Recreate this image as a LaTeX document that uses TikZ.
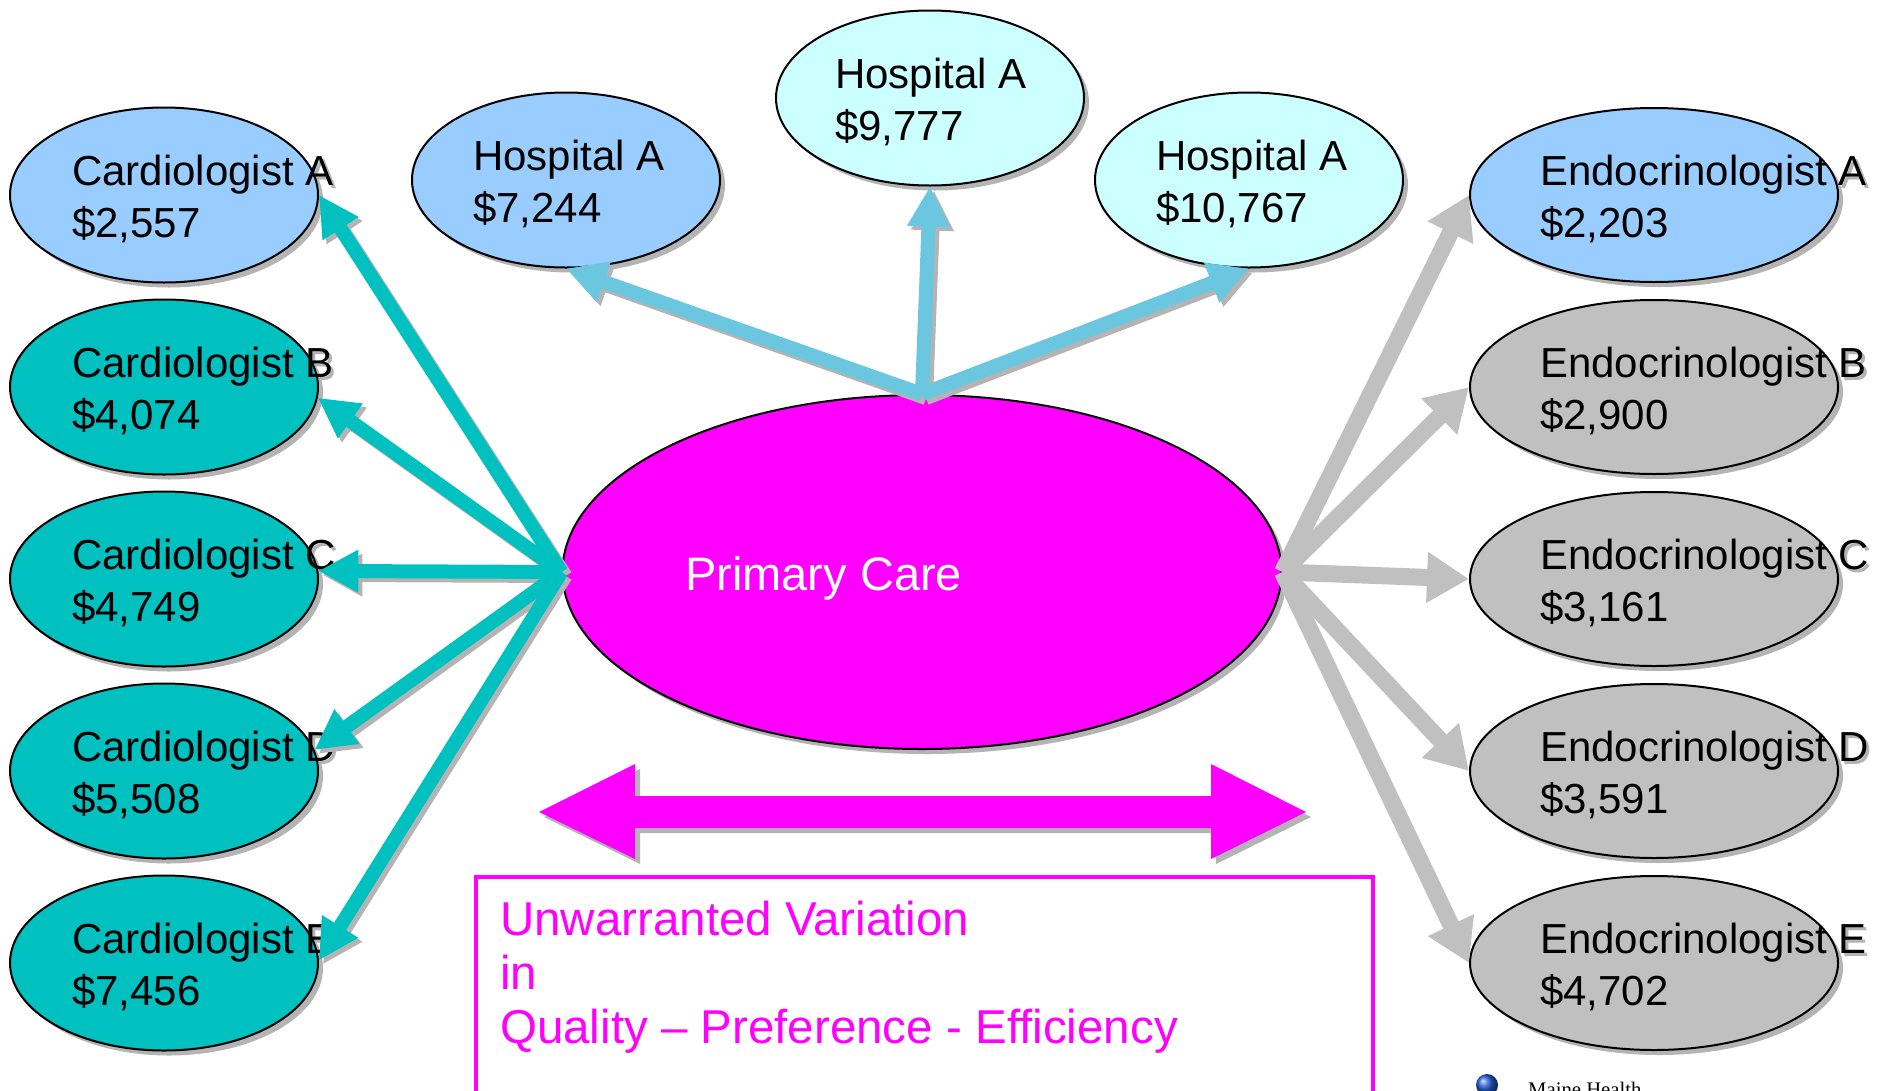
\documentclass[tikz,border=0pt]{standalone}
\usepackage{fontspec}
\setmainfont{Liberation Sans}
\newfontfamily\mhserif{Liberation Serif}
\usetikzlibrary{arrows.meta,shapes.geometric,calc,shadows}

\definecolor{lightblue}{HTML}{99CCFF}
\definecolor{palecyan}{HTML}{CCFFFF}
\definecolor{tealc}{HTML}{00C0C0}
\definecolor{silver}{HTML}{C0C0C0}
\definecolor{skyarrow}{HTML}{6BC6E0}
\definecolor{shadegray}{HTML}{B4B4B4}
\definecolor{pcmag}{HTML}{FF00FF}
\definecolor{mhblue}{HTML}{1E5AD2}

\tikzset{
  bubble/.style={ellipse, draw=black, line width=2pt, inner sep=0pt,
    minimum width=308pt, minimum height=175pt,
    drop shadow={shadow xshift=5pt, shadow yshift=-5pt, fill=shadegray, opacity=1}},
  wide/.style={minimum width=368pt, minimum height=174pt},
  lbl/.style={anchor=base west, inner sep=0pt, font=\fontsize{42}{50}\selectfont},
  lblshadow/.style={lbl, text=shadegray},
  link/.style={line width=14pt, -{Triangle[length=40pt,width=40pt]}},
  thicklink/.style={line width=17pt, -{Triangle[length=42pt,width=48pt]}},
  castshadow/.style={draw=shadegray, transform canvas={xshift=4pt,yshift=-4pt}},
  boxtxt/.style={anchor=base west, inner sep=0pt, text=pcmag, font=\fontsize{47.5}{56}\selectfont},
}

% one labelled ellipse: name, centre, style, text inset, first line, second line
\newcommand\bubble[6]{%
  \coordinate (#1-c) at #2;
  \node[lblshadow] (#1-s1) at ($(#1-c)+(#4+3,-7)$) {#5};
  \node[lblshadow] (#1-s2) at ($(#1-c)+(#4+3,45)$) {#6};
  \node[bubble,#3] (#1) at (#1-c) {};
  \node[lbl] (#1-l1) at ($(#1-c)+(#4,-10)$) {#5};
  \node[lbl] (#1-l2) at ($(#1-c)+(#4,42)$) {#6};
}

\begin{document}
\begin{tikzpicture}[x=1pt,y=-1pt]
\useasboundingbox (0,0) rectangle (1878,1090);
\clip (0,0) rectangle (1878,1090);

% centre
\node[bubble, fill=pcmag, minimum width=719pt, minimum height=354pt] (pc) at (922,572) {};
\node[anchor=base west, inner sep=0pt, text=white, font=\fontsize{47}{56}\selectfont]
  (pc-l) at ($(pc)+(-237,18)$) {Primary Care};

% cardiologists
\bubble{cA}{(164,195)}{fill=lightblue}{-92}{Cardiologist A}{\$2,557}
\bubble{cB}{(164,387)}{fill=tealc}{-92}{Cardiologist B}{\$4,074}
\bubble{cC}{(164,579)}{fill=tealc}{-92}{Cardiologist C}{\$4,749}
\bubble{cD}{(164,771)}{fill=tealc}{-92}{Cardiologist D}{\$5,508}
\bubble{cE}{(164,963)}{fill=tealc}{-92}{Cardiologist E}{\$7,456}

% hospitals
\bubble{hL}{(566,180)}{fill=lightblue}{-93}{Hospital A}{\$7,244}
\bubble{hM}{(930,98)}{fill=palecyan}{-95}{Hospital A}{\$9,777}
\bubble{hR}{(1249,180)}{fill=palecyan}{-93}{Hospital A}{\$10,767}

% endocrinologists
\bubble{eA}{(1654,195)}{wide,fill=lightblue}{-114}{Endocrinologist A}{\$2,203}
\bubble{eB}{(1654,387)}{wide,fill=silver}{-114}{Endocrinologist B}{\$2,900}
\bubble{eC}{(1654,579)}{wide,fill=silver}{-114}{Endocrinologist C}{\$3,161}
\bubble{eD}{(1654,771)}{wide,fill=silver}{-114}{Endocrinologist D}{\$3,591}
\bubble{eE}{(1654,963)}{wide,fill=silver}{-114}{Endocrinologist E}{\$4,702}

% referrals to hospitals
\foreach \n in {hL,hM,hR}
  \draw[link,castshadow] (pc.north) -- (\n.south);
\foreach \n in {hL,hM,hR}
  \draw[link,draw=skyarrow] (pc.north) -- (\n.south);

% referrals to cardiologists
\foreach \n/\a in {cA/0,cB/-4,cC/3,cD/8,cE/1}
  \draw[link,castshadow] (pc.west) -- (\n.\a);
\foreach \n/\a in {cA/0,cB/-4,cC/3,cD/8,cE/1}
  \draw[link,draw=tealc] (pc.west) -- (\n.\a);

% referrals to endocrinologists
\foreach \n in {eA,eB,eC,eD,eE}
  \draw[thicklink,draw=silver] (pc.east) -- (\n.west);

% variation double arrow
\foreach \d/\col in {5/shadegray,0/pcmag}
  \fill[\col, shift={(\d,\d)}] (539,812) -- (635,764) -- (635,796) -- (1211,796)
    -- (1211,764) -- (1306,812) -- (1211,859) -- (1211,828) -- (635,828)
    -- (635,859) -- cycle;

% caption box
\node[draw=pcmag, line width=4pt, minimum width=897pt, minimum height=240pt,
  anchor=north west, inner sep=0pt] (vbox) at (474,875) {};
\node[boxtxt] (v1) at (500,935) {Unwarranted Variation};
\node[boxtxt] (v2) at (500,989) {in};
\node[boxtxt] (v3) at (500,1043) {Quality – Preference - Efficiency};

% logo
\shade[ball color=mhblue] (1487,1085) circle (11pt);
\node[anchor=base west, inner sep=0pt, font=\mhserif\fontsize{20.7}{24}\selectfont]
  (mh) at (1528,1096) {Maine Health};
\end{tikzpicture}
\end{document}
